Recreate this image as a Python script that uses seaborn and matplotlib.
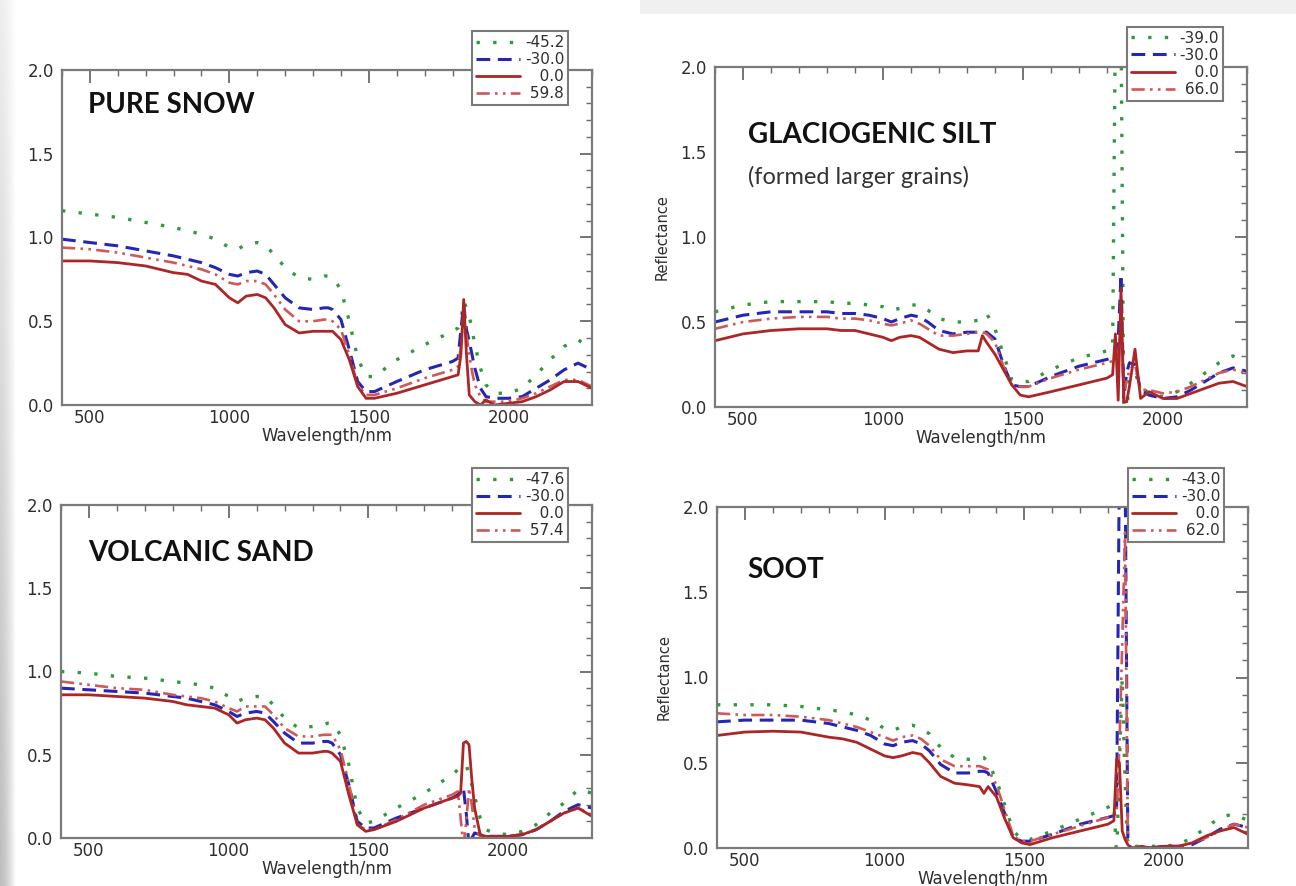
import numpy as np
import pandas as pd
import matplotlib
matplotlib.use("Agg")
import matplotlib.pyplot as plt
import seaborn as sns
from matplotlib.ticker import MultipleLocator, FormatStrFormatter

# ---------------- data ----------------
wavelength = [400, 500, 600, 700, 800, 850, 900, 950, 1000, 1030,
              1060, 1100, 1130, 1160, 1200, 1250, 1300, 1340, 1355, 1370,
              1400, 1430, 1460, 1490, 1520, 1600, 1700, 1800, 1820, 1830,
              1840, 1850, 1860, 1870, 1880, 1900, 1920, 1950, 2000, 2050,
              2100, 2150, 2200, 2250, 2300]

panel_titles = ["PURE SNOW", "GLACIOGENIC SILT", "VOLCANIC SAND", "SOOT"]
silt_subtitle = "(formed larger grains)"

snow_labels = ["-45.2", "-30.0", "0.0", "59.8"]
silt_labels = ["-39.0", "-30.0", "0.0", "66.0"]
sand_labels = ["-47.6", "-30.0", "0.0", "57.4"]
soot_labels = ["-43.0", "-30.0", "0.0", "62.0"]

snow_cold = [1.16, 1.14, 1.12, 1.09, 1.06, 1.04, 1.02, 0.99, 0.94, 0.93,
             0.96, 0.97, 0.95, 0.90, 0.82, 0.76, 0.75, 0.77, 0.77, 0.76,
             0.69, 0.50, 0.28, 0.17, 0.17, 0.27, 0.36, 0.44, 0.46, 0.50,
             0.62, 0.58, 0.53, 0.45, 0.36, 0.22, 0.12, 0.07, 0.07, 0.10,
             0.18, 0.27, 0.35, 0.39, 0.33]
snow_m30 = [0.99, 0.97, 0.95, 0.92, 0.89, 0.87, 0.85, 0.82, 0.78, 0.77,
            0.79, 0.80, 0.78, 0.72, 0.64, 0.58, 0.57, 0.58, 0.58, 0.57,
            0.51, 0.33, 0.14, 0.08, 0.08, 0.14, 0.21, 0.26, 0.28, 0.45,
            0.60, 0.45, 0.38, 0.30, 0.22, 0.10, 0.05, 0.04, 0.04, 0.05,
            0.10, 0.15, 0.21, 0.25, 0.21]
snow_0 = [0.86, 0.86, 0.85, 0.83, 0.79, 0.78, 0.74, 0.72, 0.64, 0.61,
          0.65, 0.66, 0.64, 0.58, 0.48, 0.43, 0.44, 0.44, 0.44, 0.44,
          0.39, 0.27, 0.11, 0.04, 0.04, 0.07, 0.12, 0.17, 0.18, 0.30,
          0.63, 0.30, 0.06, 0.04, 0.02, 0.00, 0.03, 0.00, 0.01, 0.02,
          0.05, 0.09, 0.14, 0.14, 0.10]
snow_warm = [0.94, 0.93, 0.91, 0.88, 0.85, 0.83, 0.81, 0.78, 0.73, 0.72,
             0.74, 0.74, 0.72, 0.66, 0.57, 0.50, 0.50, 0.51, 0.51, 0.50,
             0.45, 0.30, 0.12, 0.06, 0.06, 0.10, 0.16, 0.21, 0.23, 0.35,
             0.55, 0.42, 0.30, 0.20, 0.12, 0.05, 0.02, 0.02, 0.02, 0.04,
             0.07, 0.11, 0.15, 0.15, 0.11]

silt_cold = [0.56, 0.60, 0.62, 0.62, 0.62, 0.61, 0.61, 0.60, 0.59, 0.57,
             0.58, 0.60, 0.60, 0.57, 0.52, 0.50, 0.50, 0.51, 0.53, 0.55,
             0.46, 0.31, 0.16, 0.15, 0.15, 0.22, 0.29, 0.33, 0.34, 2.30,
             2.30, 2.30, -0.05, -0.05, 0.18, 0.20, 0.12, 0.08, 0.06, 0.09,
             0.14, 0.20, 0.26, 0.30, 0.26]
silt_m30 = [0.50, 0.54, 0.56, 0.56, 0.56, 0.55, 0.55, 0.54, 0.52, 0.50,
            0.52, 0.54, 0.53, 0.50, 0.45, 0.43, 0.44, 0.44, 0.44, 0.44,
            0.40, 0.25, 0.13, 0.12, 0.12, 0.18, 0.24, 0.28, 0.29, 0.30,
            0.40, 0.78, 0.05, 0.20, 0.26, 0.25, 0.10, 0.07, 0.05, 0.06,
            0.10, 0.15, 0.20, 0.23, 0.21]
silt_0 = [0.39, 0.43, 0.45, 0.46, 0.46, 0.45, 0.45, 0.43, 0.41, 0.39,
          0.41, 0.42, 0.41, 0.38, 0.34, 0.32, 0.33, 0.33, 0.42, 0.38,
          0.31, 0.22, 0.13, 0.07, 0.06, 0.09, 0.13, 0.17, 0.19, 0.43,
          0.04, 0.70, 0.03, 0.03, 0.12, 0.34, 0.05, 0.09, 0.05, 0.05,
          0.08, 0.11, 0.14, 0.15, 0.12]
silt_warm = [0.46, 0.50, 0.52, 0.53, 0.53, 0.52, 0.52, 0.51, 0.49, 0.48,
             0.49, 0.51, 0.49, 0.46, 0.42, 0.42, 0.43, 0.44, 0.44, 0.43,
             0.38, 0.24, 0.13, 0.12, 0.12, 0.17, 0.22, 0.26, 0.27, 0.30,
             0.30, 0.50, 0.10, 0.15, 0.22, 0.25, 0.10, 0.10, 0.08, 0.09,
             0.12, 0.16, 0.20, 0.22, 0.20]

sand_cold = [1.00, 0.99, 0.97, 0.96, 0.94, 0.93, 0.92, 0.90, 0.85, 0.82,
             0.84, 0.85, 0.85, 0.80, 0.72, 0.66, 0.67, 0.68, 0.69, 0.69,
             0.62, 0.44, 0.18, 0.09, 0.10, 0.18, 0.27, 0.38, 0.41, 0.42,
             0.44, 0.44, 0.38, 0.32, 0.25, 0.12, 0.05, 0.03, 0.02, 0.04,
             0.08, 0.15, 0.21, 0.29, 0.27]
sand_m30 = [0.90, 0.89, 0.88, 0.87, 0.85, 0.84, 0.82, 0.80, 0.76, 0.73,
            0.75, 0.76, 0.75, 0.70, 0.63, 0.57, 0.57, 0.58, 0.58, 0.57,
            0.50, 0.32, 0.10, 0.06, 0.06, 0.12, 0.18, 0.24, 0.26, 0.28,
            0.30, 0.15, -0.05, 0.00, 0.03, 0.02, 0.01, 0.01, 0.01, 0.02,
            0.05, 0.10, 0.16, 0.20, 0.18]
sand_0 = [0.86, 0.86, 0.85, 0.84, 0.82, 0.80, 0.79, 0.78, 0.74, 0.69,
          0.71, 0.72, 0.71, 0.66, 0.57, 0.51, 0.51, 0.52, 0.52, 0.51,
          0.46, 0.26, 0.08, 0.04, 0.05, 0.10, 0.18, 0.24, 0.25, 0.27,
          0.57, 0.58, 0.56, 0.35, 0.18, 0.02, 0.01, 0.01, 0.01, 0.02,
          0.05, 0.10, 0.15, 0.18, 0.13]
sand_warm = [0.94, 0.92, 0.90, 0.89, 0.86, 0.85, 0.84, 0.82, 0.78, 0.76,
             0.79, 0.79, 0.79, 0.74, 0.66, 0.61, 0.61, 0.62, 0.62, 0.62,
             0.53, 0.33, 0.08, 0.05, 0.05, 0.11, 0.20, 0.26, 0.28, 0.12,
             -0.05, 0.10, 0.30, 0.20, 0.06, 0.01, 0.01, 0.01, 0.01, 0.02,
             0.05, 0.10, 0.15, 0.18, 0.14]

soot_cold = [0.84, 0.84, 0.84, 0.83, 0.81, 0.80, 0.78, 0.75, 0.70, 0.69,
             0.71, 0.72, 0.70, 0.67, 0.59, 0.53, 0.52, 0.53, 0.53, 0.50,
             0.40, 0.25, 0.10, 0.05, 0.05, 0.10, 0.17, 0.24, 0.26, -0.05,
             0.50, 1.00, 0.40, -0.05, 0.00, 0.01, 0.01, 0.01, 0.01, 0.02,
             0.06, 0.12, 0.18, 0.20, 0.16]
soot_m30 = [0.74, 0.75, 0.75, 0.75, 0.73, 0.71, 0.69, 0.66, 0.61, 0.60,
            0.62, 0.63, 0.61, 0.57, 0.49, 0.44, 0.44, 0.45, 0.45, 0.44,
            0.33, 0.20, 0.06, 0.04, 0.04, 0.08, 0.14, 0.18, 0.19, 0.25,
            2.30, 2.30, 2.30, 0.05, 0.00, 0.00, 0.01, 0.00, 0.01, 0.01,
            0.02, 0.06, 0.11, 0.14, 0.12]
soot_0 = [0.66, 0.68, 0.685, 0.68, 0.65, 0.64, 0.62, 0.58, 0.54, 0.53,
          0.54, 0.56, 0.55, 0.50, 0.42, 0.38, 0.37, 0.36, 0.32, 0.36,
          0.30, 0.17, 0.06, 0.03, 0.02, 0.06, 0.10, 0.14, 0.16, 0.52,
          0.50, 0.10, 0.05, 0.02, 0.00, 0.00, 0.01, 0.00, 0.01, 0.01,
          0.03, 0.07, 0.10, 0.12, 0.08]
soot_warm = [0.79, 0.78, 0.78, 0.77, 0.75, 0.73, 0.71, 0.68, 0.65, 0.63,
             0.65, 0.66, 0.64, 0.60, 0.52, 0.48, 0.48, 0.48, 0.47, 0.46,
             0.37, 0.22, 0.07, 0.04, 0.04, 0.08, 0.13, 0.18, 0.19, 0.20,
             0.60, 1.20, 1.85, 0.05, 0.00, 0.00, 0.01, 0.00, 0.01, 0.01,
             0.03, 0.06, 0.10, 0.14, 0.12]

# ---------------- style ----------------
sns.set_style("white")
plt.rcParams['font.family'] = ['DejaVu Sans']

GREEN = '#2f9a3c'
BLUE = '#2626b4'
RED = '#ad2626'
LRED = '#cf5858'
line_styles = [
    dict(color=GREEN, linestyle=(0, (1.0, 4.0)), linewidth=2.4),
    dict(color=BLUE, linestyle=(0, (4.5, 2.5)), linewidth=2.2),
    dict(color=RED, linestyle='-', linewidth=2.0),
    dict(color=LRED, linestyle=(0, (5, 2, 1, 2, 1, 2)), linewidth=1.9),
]
draw_order = [0, 1, 3, 2]


def pad_label(s):
    # right-align the legend numbers
    target_digits, target_minus = 3, 1
    nd = sum(c.isdigit() for c in s)
    nm = s.count('-')
    return '\u2007' * (target_digits - nd) + '\u2008' * (target_minus - nm) + s


W_PX, H_PX = 1296, 886
fig = plt.figure(figsize=(W_PX / 100, H_PX / 100), dpi=100)
fig.patch.set_facecolor('white')

# slide background decoration: grey gradient on left edge and top right band
bg = fig.add_axes([0, 0, 16 / W_PX, 1], zorder=-10)
gx = np.linspace(0, 1, 64)[None, :]
gy = np.linspace(0.74, 0.93, 128)[:, None]
bg.imshow(gy + (1 - gy) * gx ** 1.5, cmap='gray', vmin=0, vmax=1,
          aspect='auto', origin='lower', extent=[0, 1, 0, 1])
bg.axis('off')
bt = fig.add_axes([640 / W_PX, 1 - 14 / H_PX, 656 / W_PX, 14 / H_PX], zorder=-10)
bt.imshow(np.full((2, 2), 0.94), cmap='gray', vmin=0, vmax=1, aspect='auto')
bt.axis('off')


def px_rect(left, top, right, bottom):
    return [left / W_PX, 1 - bottom / H_PX, (right - left) / W_PX, (bottom - top) / H_PX]


panels = [
    dict(rect=px_rect(62, 70, 592, 405), title=panel_titles[0], title_xy=(0.049, 0.895),
         series=[snow_cold, snow_m30, snow_0, snow_warm], labels=snow_labels,
         ylabel=False, anchor=(0.955, 1.116), sub=None),
    dict(rect=px_rect(715, 67, 1247, 407), title=panel_titles[1], title_xy=(0.062, 0.80),
         series=[silt_cold, silt_m30, silt_0, silt_warm], labels=silt_labels,
         ylabel=True, anchor=(0.955, 1.118), sub=(silt_subtitle, (0.062, 0.676))),
    dict(rect=px_rect(61, 505, 592, 838), title=panel_titles[2], title_xy=(0.051, 0.856),
         series=[sand_cold, sand_m30, sand_0, sand_warm], labels=sand_labels,
         ylabel=False, anchor=(0.955, 1.111), sub=None),
    dict(rect=px_rect(717, 507, 1248, 848), title=panel_titles[3], title_xy=(0.058, 0.815),
         series=[soot_cold, soot_m30, soot_0, soot_warm], labels=soot_labels,
         ylabel=True, anchor=(0.955, 1.114), sub=None),
]

for p in panels:
    ax = fig.add_axes(p['rect'])
    handles = [None] * 4
    for i in draw_order:
        df = pd.DataFrame({'wavelength': wavelength, 'reflectance': p['series'][i]})
        sns.lineplot(data=df, x='wavelength', y='reflectance', ax=ax,
                     estimator=None, sort=False, errorbar=None, legend=False,
                     **line_styles[i])
        handles[i] = ax.get_lines()[-1]
    ax.set_xlim(400, 2300)
    ax.set_ylim(0, 2.0)
    ax.xaxis.set_major_locator(MultipleLocator(500))
    ax.xaxis.set_minor_locator(MultipleLocator(100))
    ax.yaxis.set_major_locator(MultipleLocator(0.5))
    ax.yaxis.set_minor_locator(MultipleLocator(0.1))
    ax.yaxis.set_major_formatter(FormatStrFormatter('%.1f'))
    ax.tick_params(which='both', direction='in', top=True, right=True,
                   colors='#6a6a6a', labelcolor='#2e2e2e', labelsize=12)
    ax.tick_params(which='major', length=9, width=1.3)
    ax.tick_params(which='minor', length=4.5, width=1.0)
    ax.tick_params(axis='y', which='major', pad=6)
    ax.tick_params(axis='x', which='major', pad=3)
    for s in ax.spines.values():
        s.set_color('#7a7a7a')
        s.set_linewidth(1.6)
    ax.set_xlabel('Wavelength/nm', fontsize=12, color='#2e2e2e', labelpad=0)
    if p['ylabel']:
        ax.set_ylabel('Reflectance', fontsize=10.5, color='#2e2e2e', labelpad=8)
    else:
        ax.set_ylabel('')
    ax.text(*p['title_xy'], p['title'], transform=ax.transAxes, ha='left', va='center',
            fontsize=20, fontweight='bold', family=['Lato', 'DejaVu Sans'], color='#111111')
    if p['sub']:
        ax.text(*p['sub'][1], p['sub'][0], transform=ax.transAxes, ha='left', va='center',
                fontsize=17, family=['Lato', 'DejaVu Sans'], color='#333333')
    leg = ax.legend(handles, [pad_label(s) for s in p['labels']], loc='upper right',
                    bbox_to_anchor=p['anchor'], borderaxespad=0, frameon=True,
                    fancybox=False, framealpha=1, edgecolor='#7a7a7a',
                    handlelength=2.9, handletextpad=0.3, labelspacing=0.14,
                    borderpad=0.25, prop={'family': ['DejaVu Sans'], 'size': 11})
    leg.get_frame().set_linewidth(1.5)
    leg.set_zorder(10)
    for t in leg.get_texts():
        t.set_color('#2e2e2e')

fig.savefig('out.png', dpi=100, facecolor=fig.get_facecolor())
